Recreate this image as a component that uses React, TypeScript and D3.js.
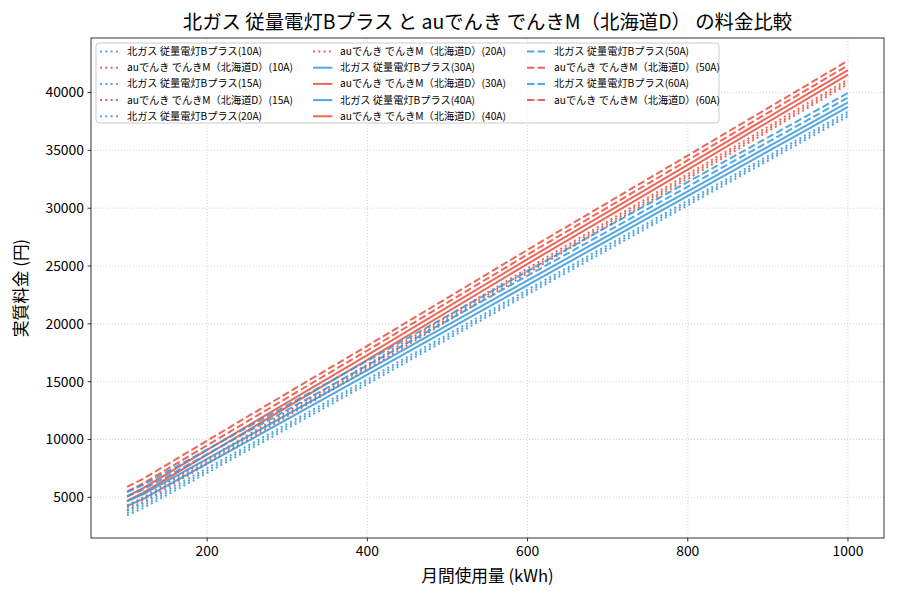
import React from "react";
import * as d3 from "d3";

// monthly usage (kWh) sample points
const usage = [100, 120, 200, 280, 400, 600, 800, 1000];

const amps = ["10A", "15A", "20A", "30A", "40A", "50A", "60A"];

// 北ガス 従量電灯Bプラス (yen)
const gas10A = [3450, 4060, 7120, 10180, 14800, 22550, 30250, 37950];
const gas15A = [3651, 4261, 7321, 10381, 15001, 22751, 30451, 38151];
const gas20A = [3853, 4463, 7523, 10583, 15203, 22953, 30653, 38353];
const gas30A = [4255, 4865, 7925, 10985, 15605, 23355, 31055, 38755];
const gas40A = [4658, 5268, 8328, 11388, 16008, 23758, 31458, 39158];
const gas50A = [5060, 5670, 8730, 11790, 16410, 24160, 31860, 39560];
const gas60A = [5463, 6073, 9133, 12193, 16813, 24563, 32263, 39963];

// auでんき でんきM（北海道D） (yen)
const au10A = [3887, 4587, 7887, 11187, 16087, 24387, 32537, 40737];
const au15A = [4088, 4788, 8088, 11388, 16288, 24588, 32738, 40938];
const au20A = [4290, 4990, 8290, 11590, 16490, 24790, 32940, 41140];
const au30A = [4692, 5392, 8692, 11992, 16892, 25192, 33342, 41542];
const au40A = [5095, 5795, 9095, 12395, 17295, 25595, 33745, 41945];
const au50A = [5497, 6197, 9497, 12797, 17697, 25997, 34147, 42347];
const au60A = [5900, 6600, 9900, 13200, 18100, 26400, 34550, 42750];

const xTicks = [200, 400, 600, 800, 1000];
const yTicks = [5000, 10000, 15000, 20000, 25000, 30000, 35000, 40000];

const gasName = "北ガス 従量電灯Bプラス";
const auName = "auでんき でんきM（北海道D）";
const title = "北ガス 従量電灯Bプラス と auでんき でんきM（北海道D） の料金比較";

const gasByAmp = [gas10A, gas15A, gas20A, gas30A, gas40A, gas50A, gas60A];
const auByAmp = [au10A, au15A, au20A, au30A, au40A, au50A, au60A];

const FONT = "'Noto Sans CJK JP', 'DejaVu Sans', sans-serif";
const BLUE = "#3498DB";
const RED = "#E74C3C";

const width = 900;
const height = 600;
const margin = { top: 38, right: 16, bottom: 62, left: 91 };

interface Series {
  label: string;
  color: string;
  dash: string | undefined;
  values: number[];
}

const dashFor = (amp: string) => {
  if (amp === "10A" || amp === "15A" || amp === "20A") return "2,3.3";
  if (amp === "50A" || amp === "60A") return "7.4,3.2";
  return undefined;
};

const series: Series[] = [];
amps.forEach((amp, i) => {
  series.push({ label: `${gasName}(${amp})`, color: BLUE, dash: dashFor(amp), values: gasByAmp[i] });
  series.push({ label: `${auName}(${amp})`, color: RED, dash: dashFor(amp), values: auByAmp[i] });
});

const App: React.FC = () => {
  const innerWidth = width - margin.left - margin.right;
  const innerHeight = height - margin.top - margin.bottom;

  const allValues = series.flatMap((s) => s.values);
  const yMin = d3.min(allValues) || 0;
  const yMax = d3.max(allValues) || 1;
  const yPad = (yMax - yMin) * 0.05;
  const xMin = d3.min(usage) || 0;
  const xMax = d3.max(usage) || 1;
  const xPad = (xMax - xMin) * 0.05;

  const xScale = d3.scaleLinear().domain([xMin - xPad, xMax + xPad]).range([0, innerWidth]);
  const yScale = d3.scaleLinear().domain([yMin - yPad, yMax + yPad]).range([innerHeight, 0]);

  const line = d3
    .line<number>()
    .x((_, i) => xScale(usage[i]))
    .y((d) => yScale(d));

  // legend: 3 columns, column-major, 5 rows
  const rows = 5;
  const colX = [4, 217, 431];
  const rowY0 = 8.5;
  const rowH = 16.2;

  return (
    <div style={{ position: "absolute", left: 0, top: 0 }}>
      <svg width={width} height={height} style={{ display: "block", background: "#fff" }}>
        <text
          x={margin.left + innerWidth / 2}
          y={29}
          textAnchor="middle"
          fontFamily={FONT}
          fontSize={19.4}
          fill="#000"
        >
          {title}
        </text>
        <g transform={`translate(${margin.left},${margin.top})`}>
          {/* grid */}
          {xTicks.map((t) => (
            <line
              key={`gx${t}`}
              x1={xScale(t)}
              x2={xScale(t)}
              y1={0}
              y2={innerHeight}
              stroke="#b0b0b0"
              strokeOpacity={0.7}
              strokeWidth={0.8}
              strokeDasharray="1,2"
            />
          ))}
          {yTicks.map((t) => (
            <line
              key={`gy${t}`}
              x1={0}
              x2={innerWidth}
              y1={yScale(t)}
              y2={yScale(t)}
              stroke="#b0b0b0"
              strokeOpacity={0.7}
              strokeWidth={0.8}
              strokeDasharray="1,2"
            />
          ))}

          {/* lines */}
          <g clipPath="url(#plotClip)">
            {series.map((s) => (
              <path
                key={s.label}
                d={line(s.values) || ""}
                fill="none"
                stroke={s.color}
                strokeOpacity={0.85}
                strokeWidth={2}
                strokeDasharray={s.dash}
              />
            ))}
          </g>
          <defs>
            <clipPath id="plotClip">
              <rect x={0} y={0} width={innerWidth} height={innerHeight} />
            </clipPath>
          </defs>

          {/* frame */}
          <rect x={0} y={0} width={innerWidth} height={innerHeight} fill="none" stroke="#000" strokeWidth={0.8} />

          {/* x axis */}
          {xTicks.map((t) => (
            <g key={`xt${t}`} transform={`translate(${xScale(t)},${innerHeight})`}>
              <line y1={0} y2={3.5} stroke="#000" strokeWidth={0.8} />
              <text y={18} textAnchor="middle" fontFamily={FONT} fontSize={13.9} fill="#000">
                {t}
              </text>
            </g>
          ))}
          {/* y axis */}
          {yTicks.map((t) => (
            <g key={`yt${t}`} transform={`translate(0,${yScale(t)})`}>
              <line x1={0} x2={-3.5} stroke="#000" strokeWidth={0.8} />
              <text x={-7} dy="0.35em" textAnchor="end" fontFamily={FONT} fontSize={13.9} fill="#000">
                {t}
              </text>
            </g>
          ))}

          <text
            x={innerWidth / 2}
            y={innerHeight + 44}
            textAnchor="middle"
            fontFamily={FONT}
            fontSize={16.7}
            fill="#000"
          >
            月間使用量 (kWh)
          </text>
          <text
            transform={`translate(${-64},${innerHeight / 2}) rotate(-90)`}
            textAnchor="middle"
            fontFamily={FONT}
            fontSize={16.7}
            fill="#000"
          >
            実質料金 (円)
          </text>

          {/* legend */}
          <g transform="translate(5,5)">
            <rect
              x={0}
              y={0}
              width={623}
              height={80}
              rx={3}
              fill="#fff"
              fillOpacity={0.8}
              stroke="#cccccc"
              strokeWidth={1}
            />
            {series.map((s, i) => {
              const col = Math.floor(i / rows);
              const row = i % rows;
              const lx = colX[col];
              const ly = rowY0 + row * rowH;
              return (
                <g key={`lg${s.label}`} transform={`translate(${lx},${ly})`}>
                  <line
                    x1={0}
                    x2={19.4}
                    y1={0}
                    y2={0}
                    stroke={s.color}
                    strokeOpacity={0.85}
                    strokeWidth={2}
                    strokeDasharray={s.dash}
                  />
                  <text x={27} dy="0.35em" fontFamily={FONT} fontSize={10.2} fill="#000">
                    {s.label}
                  </text>
                </g>
              );
            })}
          </g>
        </g>
      </svg>
    </div>
  );
};

export default App;
